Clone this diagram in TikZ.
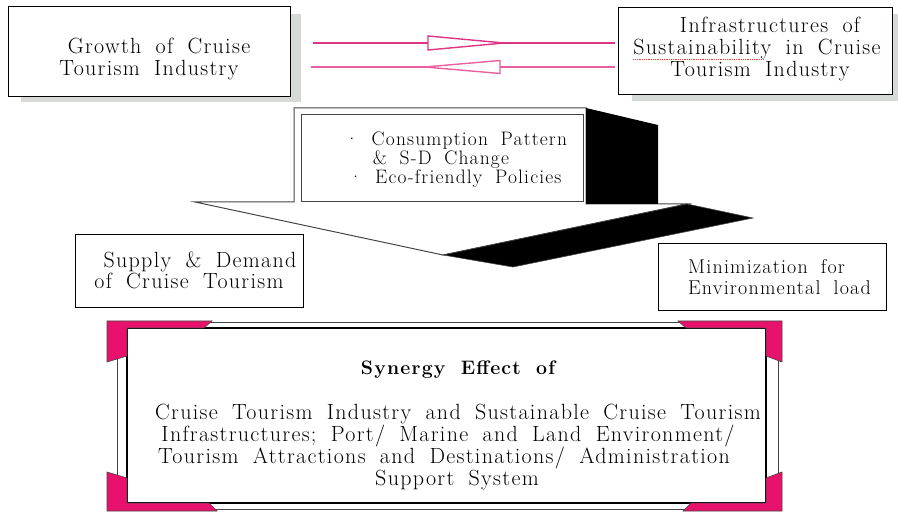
\documentclass[tikz,border=0pt]{standalone}
\usepackage{fontspec}
\setmainfont{Latin Modern Roman}[LetterSpace=6, WordSpace=1.8]
\definecolor{shadowgray}{RGB}{214,218,214}
\definecolor{pinkA}{RGB}{222,52,132}
\definecolor{pinkB}{RGB}{232,96,160}
\definecolor{framepink}{RGB}{232,18,108}
\definecolor{edgegray}{RGB}{70,70,70}
\tikzset{
  box/.style={draw=black, line width=1pt, fill=white, inner sep=0pt},
  shadowbox/.style={fill=shadowgray, draw=none},
  txt/.style={anchor=base, inner sep=0pt, font=\fontsize{22}{22}\selectfont},
  smalltxt/.style={anchor=base, inner sep=0pt, font=\fontsize{19.5}{19}\selectfont},
  midtxt/.style={anchor=base, inner sep=0pt, font=\fontsize{20}{20}\selectfont},
  boldtxt/.style={anchor=base, inner sep=0pt, font=\fontsize{19.5}{20}\selectfont\bfseries},
  arrowline/.style={line width=1.4pt},
  corner/.style={fill=framepink, draw=edgegray, line width=0.6pt},
}
\begin{document}
\begin{tikzpicture}[x=1pt,y=-1pt]
\useasboundingbox (0,0) rectangle (898,513);
% shadows
\fill[shadowbox] (21,14) rectangle (301,102);
\fill[shadowbox] (632,14) rectangle (898,101);
% top boxes
\node[box, minimum width=282pt, minimum height=90pt] (growth) at (149,52) {};
\node[box, minimum width=274pt, minimum height=87pt] (infra) at (755,51.5) {};
\node[txt] (g1) at (159,54) {Growth of Cruise};
\node[txt] (g2) at (149,76) {Tourism Industry};
\node[txt] (i1) at (770,33) {Infrastructures of};
\node[txt] (i2) at (757,55) {Sustainability in Cruise};
\node[txt] (i3) at (760,77) {Tourism Industry};
\draw[red!80, densely dotted, line width=0.8pt] ([yshift=-4pt]i2.base west) -- ++(130,0);
% arrows between the top boxes
\coordinate (a1s) at (313,43);
\coordinate (a1e) at (615,43);
\coordinate (a2s) at (615,67);
\coordinate (a2e) at (311,67);
\draw[arrowline, pinkA] (a1s) -- (a1e);
\draw[arrowline, pinkA, fill=white] (428,36) -- (504,43) -- (428,50) -- cycle;
\draw[arrowline, pinkB] (a2s) -- (a2e);
\draw[arrowline, pinkB, fill=white] (500,60.5) -- (425,67) -- (500,73.5) -- cycle;
% central 3D arrow
\filldraw[fill=white, draw=edgegray, line width=1pt]
  (294,108) -- (586,108) -- (586,204) -- (687,204) -- (443,255) -- (195,202) -- (294,202) -- cycle;
\fill[black] (586,108) -- (658,125) -- (658,204) -- (586,204) -- cycle;
\filldraw[fill=black, draw=edgegray, line width=0.6pt] (443,255) -- (687,204) -- (753,218) -- (513,267) -- cycle;
\node[draw=edgegray, line width=0.8pt, minimum width=282pt, minimum height=87pt, inner sep=0pt] (factors) at (442,157.5) {};
\node[smalltxt] (f1) at (456,146) {\textperiodcentered\ Consumption Pattern};
\node[smalltxt] (f2) at (441,165) {\& S-D Change};
\node[smalltxt] (f3) at (455,184) {\textperiodcentered\ Eco-friendly Policies};
% middle boxes
\node[box, minimum width=228pt, minimum height=73pt] (supply) at (189,271.5) {};
\node[txt] (s1) at (200,268) {Supply \& Demand};
\node[txt] (s2) at (189,289) {of Cruise Tourism};
\node[box, minimum width=228pt, minimum height=67pt] (minim) at (772,277.5) {};
\node[midtxt, anchor=base west] (m1) at (688,274) {Minimization for};
\node[midtxt, anchor=base west] (m2) at (688,295) {Environmental load};
% bottom frame
\draw[edgegray, line width=1pt, fill=white] (117,323) rectangle (778,509);
\node[box, line width=1.2pt, minimum width=639pt, minimum height=175pt] (synergy) at (446.5,415.5) {};
\fill[corner] (107,321) -- (212,321) -- (204,328) -- (127,328) -- (127,356) -- (107,362) -- cycle;
\fill[corner] (782,321) -- (678,321) -- (686,328) -- (766,328) -- (766,356) -- (782,362) -- cycle;
\fill[corner] (107,511) -- (217,511) -- (209,503) -- (127,503) -- (127,478) -- (107,472) -- cycle;
\fill[corner] (782,511) -- (683,511) -- (691,503) -- (766,503) -- (766,478) -- (782,472) -- cycle;
\node[boldtxt] (t0) at (458,374) {Synergy Effect of};
\node[txt] (t1) at (458,419) {Cruise Tourism Industry and Sustainable Cruise Tourism};
\node[txt] (t2) at (448,441) {Infrastructures; Port/ Marine and Land Environment/};
\node[txt] (t3) at (444,463) {Tourism Attractions and Destinations/ Administration};
\node[txt] (t4) at (457,485) {Support System};
\end{tikzpicture}
\end{document}
